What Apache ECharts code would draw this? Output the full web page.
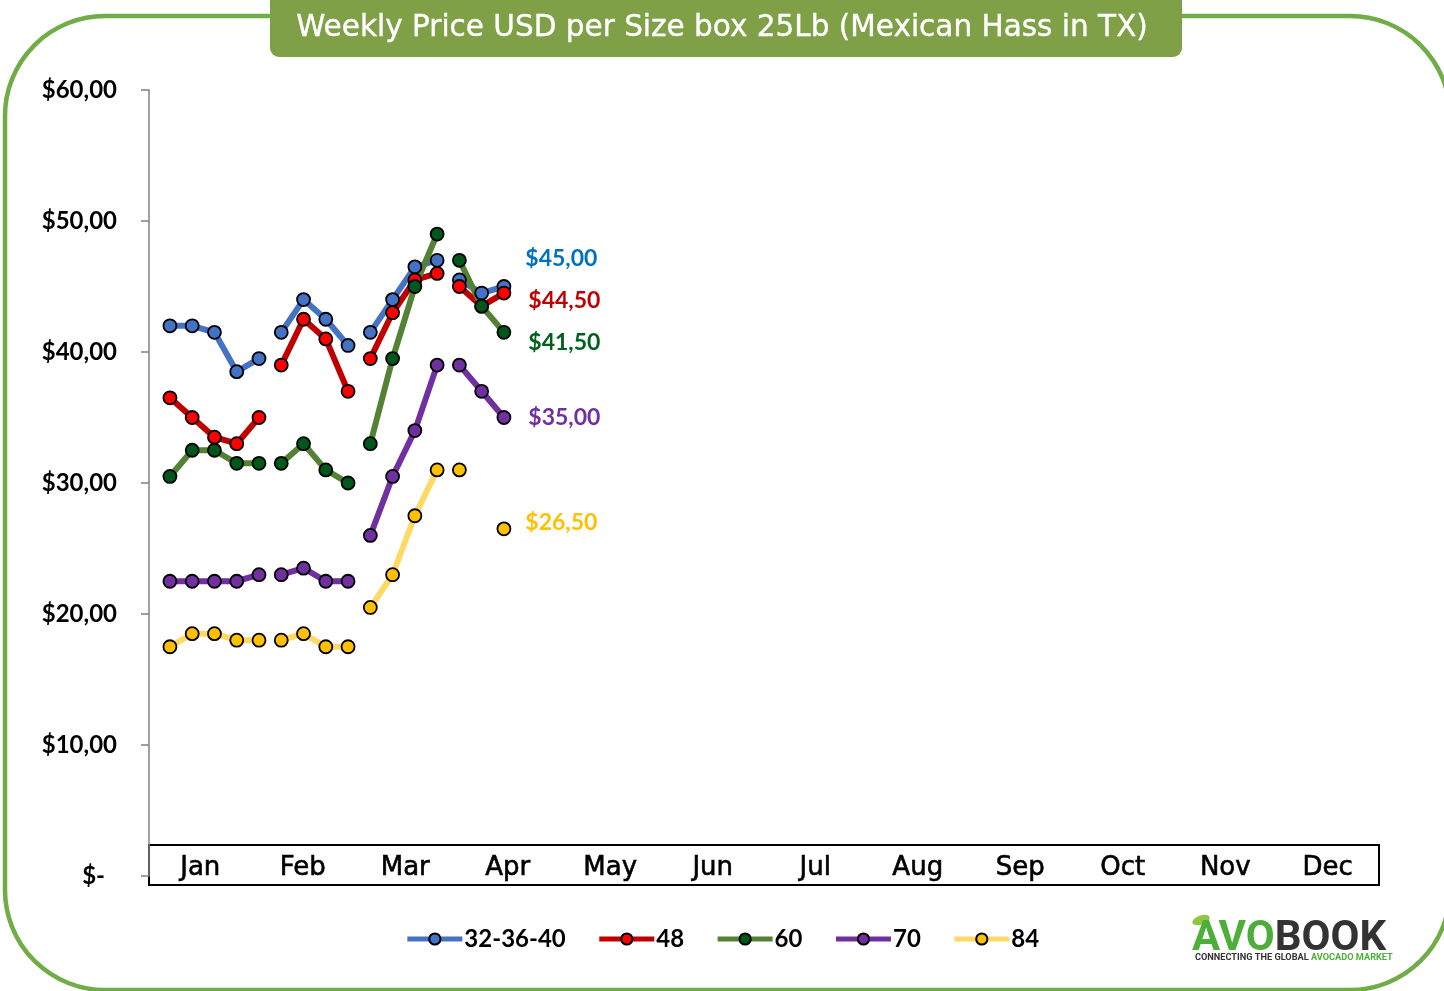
<!DOCTYPE html>
<html>
<head>
<meta charset="utf-8">
<title>Weekly Price USD per Size box 25Lb</title>
<script src="https://cdn.jsdelivr.net/npm/echarts@6/dist/echarts.min.js"></script>
<style>
  html, body { margin: 0; padding: 0; background: #fff; }
  #main { width: 1444px; height: 991px; }
</style>
</head>
<body>
<div id="main"></div>
<script>
// month strip + weekly points (week index across the year)
var months = ['Jan', 'Feb', 'Mar', 'Apr', 'May', 'Jun', 'Jul', 'Aug', 'Sep', 'Oct', 'Nov', 'Dec'];
var weeks = [1, 2, 3, 4, 5, 6, 7, 8, 9, 10, 11, 12, 13, 14, 15, 16];
var sizes = ['32-36-40', '48', '60', '70', '84'];

var price323640 = [42, 42, 41.5, 38.5, 39.5, 41.5, 44, 42.5, 40.5, 41.5, 44, 46.5, 47, 45.5, 44.5, 45];
var price48 = [36.5, 35, 33.5, 33, 35, 39, 42.5, 41, 37, 39.5, 43, 45.5, 46, 45, 43.5, 44.5];
var price60 = [30.5, 32.5, 32.5, 31.5, 31.5, 31.5, 33, 31, 30, 33, 39.5, 45, 49, 47, 43.5, 41.5];
var price70 = [22.5, 22.5, 22.5, 22.5, 23, 23, 23.5, 22.5, 22.5, 26, 30.5, 34, 39, 39, 37, 35];
var price84 = [17.5, 18.5, 18.5, 18, 18, 18, 18.5, 17.5, 17.5, 20.5, 23, 27.5, 31, 31, null, 26.5];

// week index ranges of each month block (lines break between months)
var monthBlocks = [[0, 5], [5, 9], [9, 13], [13, 16]];

var prices = [price323640, price48, price60, price70, price84];
var lineColors = ['#4472C4', '#C00000', '#548235', '#7030A0', '#FFD966'];
var dotColors = ['#4472C4', '#FF0000', '#00561B', '#7030A0', '#FFC000'];
var tagColors = ['#0070C0', '#C00000', '#00611F', '#7030A0', '#FFC000'];
var tagOffsets = [[0, -28], [3, 8], [3, 10], [3, 0], [0, -6]];

var labelFont = 'Lato, "Open Sans", sans-serif';

function money(v) {
	return '$' + v.toFixed(2).replace('.', ',');
}

var series = [];
sizes.forEach(function (name, k) {
	var vals = prices[k];
	monthBlocks.forEach(function (blk) {
		var data = [];
		for (var i = blk[0]; i < blk[1]; i++) {
			var item = { value: [weeks[i], vals[i] == null ? '-' : vals[i]] };
			if (i === weeks.length - 1) {
				item.label = {
					show: true,
					position: 'right',
					distance: 14,
					offset: tagOffsets[k],
					color: tagColors[k],
					fontFamily: labelFont,
					fontWeight: 'bold',
					fontSize: 23,
					formatter: function (p) { return money(p.value[1]); }
				};
			}
			data.push(item);
		}
		series.push({
			name: name,
			type: 'line',
			xAxisIndex: 0,
			yAxisIndex: 0,
			data: data,
			symbol: 'circle',
			symbolSize: 13,
			showAllSymbol: true,
			lineStyle: { width: 6, color: lineColors[k] },
			itemStyle: { color: dotColors[k], borderColor: '#000', borderWidth: 1.8 },
			label: { show: false },
			emphasis: { disabled: true }
		});
	});
});

var myChart = echarts.init(document.getElementById('main'));
var option = {
	animation: false,
	backgroundColor: '#fff',
	title: {
		text: 'Weekly Price USD per Size box 25Lb (Mexican Hass in TX)',
		left: 'center',
		top: 8,
		z: 10,
		textStyle: {
			color: '#fff',
			fontFamily: '"DejaVu Sans", sans-serif',
			fontWeight: 'normal',
			fontSize: 29.5,
			textBorderColor: '#fff',
			textBorderWidth: 0.4
		}
	},
	legend: {
		data: sizes,
		left: 'center',
		top: 922,
		itemWidth: 55,
		itemHeight: 14,
		itemGap: 31,
		lineStyle: { width: 5 },
		textStyle: {
			color: '#000',
			fontFamily: labelFont,
			fontWeight: 'bold',
			fontSize: 24,
			padding: [0, 0, 0, -3]
		}
	},
	grid: [
		{ left: 149, right: 65, top: 90, bottom: 115 },
		{ left: 149, right: 65, top: 845, height: 40, show: true, borderColor: '#000', borderWidth: 2, backgroundColor: 'transparent' }
	],
	xAxis: [
		{ type: 'value', gridIndex: 0, min: 0.06, max: 55.3, show: false },
		{
			type: 'category',
			gridIndex: 1,
			data: months,
			boundaryGap: true,
			axisLine: { show: false },
			axisTick: { show: false },
			axisLabel: {
				inside: true,
				margin: 4,
				color: '#000',
				fontFamily: '"DejaVu Sans", sans-serif',
				fontSize: 26,
				textBorderColor: '#000',
				textBorderWidth: 0.6
			}
		}
	],
	yAxis: [
		{
			type: 'value',
			gridIndex: 0,
			min: 0,
			max: 60,
			interval: 10,
			axisLine: { show: true, lineStyle: { color: '#808080', width: 1.5 } },
			axisTick: { show: true, length: 8, lineStyle: { color: '#808080', width: 1.5 } },
			splitLine: { show: false },
			axisLabel: {
				margin: 32,
				color: '#000',
				fontFamily: labelFont,
				fontWeight: 'bold',
				fontSize: 24,
				formatter: function (v) {
					return v === 0 ? '{z|$-}' : money(v);
				},
				rich: {
					z: { padding: [0, 12, 0, 0], fontFamily: labelFont, fontWeight: 'bold', fontSize: 24, color: '#000' }
				}
			}
		},
		{ type: 'value', gridIndex: 1, show: false }
	],
	graphic: [
		{
			type: 'rect',
			z: 0,
			shape: { x: 5, y: 16, width: 1445, height: 974, r: 100 },
			style: { fill: null, stroke: '#70AD47', lineWidth: 4.5 },
			silent: true
		},
		{
			type: 'rect',
			z: 1,
			shape: { x: 270, y: -10, width: 912, height: 67, r: [0, 0, 9, 9] },
			style: { fill: '#7FA046' },
			silent: true
		},
		{
			type: 'ellipse',
			z: 1,
			shape: { cx: 1201, cy: 920, rx: 9, ry: 4.5 },
			rotation: 0.35,
			originX: 1201,
			originY: 920,
			style: { fill: '#8DC63F' },
			silent: true
		},
		{
			type: 'text',
			z: 1,
			left: 1192,
			top: 918,
			style: {
				text: '{g|AVO}{d|BOOK}',
				rich: {
					g: { fill: '#4DAE3A', fontFamily: 'Roboto, sans-serif', fontWeight: 'bold', fontSize: 42, letterSpacing: 1 },
					d: { fill: '#333333', fontFamily: 'Roboto, sans-serif', fontWeight: 'bold', fontSize: 42, letterSpacing: 1 }
				}
			},
			silent: true
		},
		{
			type: 'text',
			z: 1,
			left: 1195,
			top: 953,
			style: {
				text: '{d|CONNECTING THE GLOBAL }{g|AVOCADO MARKET}',
				rich: {
					g: { fill: '#4DAE3A', fontFamily: 'Roboto, sans-serif', fontWeight: 'bold', fontSize: 9.2 },
					d: { fill: '#333333', fontFamily: 'Roboto, sans-serif', fontWeight: 'bold', fontSize: 9.2 }
				}
			},
			silent: true
		}
	],
	series: series
};

myChart.setOption(option);
</script>
</body>
</html>
